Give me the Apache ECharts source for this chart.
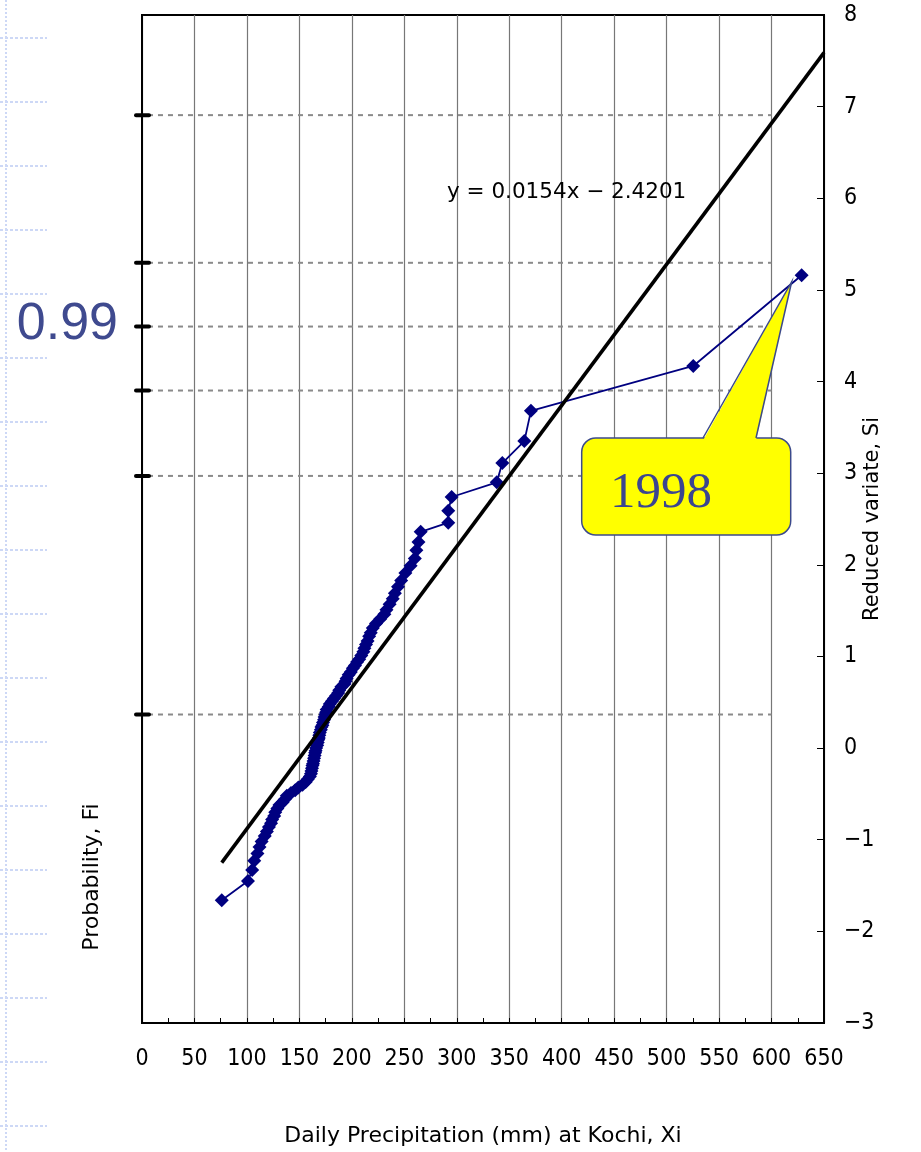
<!DOCTYPE html>
<html>
<head>
<meta charset="utf-8">
<script src="https://cdn.jsdelivr.net/npm/echarts@6/dist/echarts.min.js"></script>
<style>
html,body{margin:0;padding:0;background:#fff;}
#chart{width:921px;height:1152px;}
</style>
</head>
<body>
<div id="chart"></div>
<script>
// ---- data ----
const precipitation = [76,101,105,107,110,112,114,117,119,121,
  123,124,126,127,129,131,134,136,138,142,
  146,149,153,156,158,160,161,161.5,162,162.5,
  163,163.5,164,164.5,165,165.5,166,167,167.5,168,
  168.5,169,169.5,170.5,171,172,172.5,173.5,174,175,
  175.5,176,178,179,181,183,185,187,188,190,
  193,194,195,197,199,201,203,205,207,209,
  211,212,213.5,215,216.5,218,220,223,227,231,
  233,236,239,241,244,247,251,256,260,261.5,
  263.5,265.6,291.9,291.9,295.1,338.1,343.4,364.4,370.7,525.4,
  628.7];
const reducedVariate = [-1.66,-1.45,-1.33,-1.23,-1.15,-1.08,-1.02,-0.96,-0.91,-0.86,
  -0.82,-0.78,-0.74,-0.70,-0.66,-0.62,-0.59,-0.56,-0.52,-0.49,
  -0.46,-0.43,-0.40,-0.37,-0.34,-0.31,-0.28,-0.25,-0.22,-0.19,
  -0.17,-0.14,-0.11,-0.08,-0.05,-0.03,0.00,0.03,0.06,0.09,
  0.11,0.14,0.17,0.20,0.23,0.25,0.28,0.31,0.34,0.37,
  0.39,0.42,0.45,0.48,0.51,0.54,0.57,0.60,0.63,0.67,
  0.70,0.73,0.76,0.80,0.83,0.87,0.90,0.94,0.97,1.01,
  1.05,1.09,1.13,1.17,1.22,1.26,1.31,1.36,1.41,1.46,
  1.51,1.57,1.63,1.69,1.76,1.83,1.91,1.99,2.07,2.16,
  2.25,2.36,2.46,2.59,2.74,2.90,3.11,3.35,3.68,4.17,
  5.16];
const regSlope = 0.0154;
const regIntercept = -2.4201;
const regRangeX = [76, 650];
const probTicks = [0.5, 0.95, 0.98, 0.99, 0.995, 0.999];
const probLabels = ['', '', '', '0.99', '', ''];
const xTicks = {min: 0, max: 650, interval: 50};
const yTicks = {min: -3, max: 8, interval: 1};
const equationText = 'y = 0.0154x \u2212 2.4201';
const calloutText = '1998';

// ---- build ----
const obs = precipitation.map((x, i) => [x, reducedVariate[i]]);
const regLine = regRangeX.map(x => [x, regSlope * x + regIntercept]);
const probData = probTicks.map((p, i) => [0, -Math.log(-Math.log(p)), i]);

const narrow = "'DejaVu Sans Condensed','Liberation Sans Narrow','Liberation Sans',sans-serif";
const sans = "'Liberation Sans',Arial,sans-serif";
const wide = "'DejaVu Sans',sans-serif";

const chart = echarts.init(document.getElementById('chart'), null, {renderer: 'canvas'});

const graphics = [];
// faint slide decoration on the far left
graphics.push({type: 'line', shape: {x1: 6, y1: 0, x2: 6, y2: 1152},
  style: {stroke: '#cdd8f6', lineWidth: 2, lineDash: [2, 2]}, z: 0, silent: true});
for (let k = 0; k < 18; k++) {
  const yy = 38 + 64 * k;
  graphics.push({type: 'line', shape: {x1: 0, y1: yy, x2: 47, y2: yy},
    style: {stroke: '#cdd8f6', lineWidth: 2, lineDash: [3, 2]}, z: 0, silent: true});
}
graphics.push({type: 'text', x: 92, y: 877, rotation: Math.PI / 2,
  style: {text: 'Probability, Fi', font: '22px ' + wide, fill: '#000', align: 'center', verticalAlign: 'middle'}, z: 10});
graphics.push({type: 'text', x: 447, y: 192,
  style: {text: equationText, font: '21.5px ' + wide, fill: '#000', align: 'left', verticalAlign: 'middle'}, z: 10});
// callout box
graphics.push({type: 'rect', z: 100, silent: true,
  shape: {x: 581.7, y: 438, width: 209, height: 97, r: 14},
  style: {fill: '#ffff00', stroke: '#3c4a8c', lineWidth: 1.5}});
graphics.push({type: 'polygon', z: 101, silent: true,
  shape: {points: [[703, 440.5], [791.7, 281.7], [756, 440.5]]},
  style: {fill: '#ffff00'}});
graphics.push({type: 'polyline', z: 102, silent: true,
  shape: {points: [[703, 438], [791.7, 281.7], [756, 438]]},
  style: {stroke: '#3c4a8c', lineWidth: 1.5, fill: null}});
graphics.push({type: 'text', x: 661, y: 494, z: 103,
  style: {text: calloutText, font: '51px "Liberation Serif","Times New Roman",serif', fill: '#3b4590', align: 'center', verticalAlign: 'middle'}});

const option = {
  animation: false,
  backgroundColor: '#ffffff',
  grid: {left: 142, top: 15, width: 682, height: 1009, show: true, borderColor: '#000', borderWidth: 2, backgroundColor: 'transparent'},
  xAxis: {
    type: 'value', min: xTicks.min, max: xTicks.max, interval: xTicks.interval,
    name: 'Daily Precipitation (mm) at Kochi, Xi', nameLocation: 'middle', nameGap: 102, nameMoveOverlap: false,
    nameTextStyle: {fontSize: 22, fontFamily: wide, color: '#000'},
    axisLine: {show: true, onZero: false, lineStyle: {color: '#000', width: 2}},
    axisTick: {show: true, inside: true, length: 5, lineStyle: {color: '#000', width: 1}},
    minorTick: {show: true, splitNumber: 2, length: 5, lineStyle: {color: '#000', width: 1}},
    splitLine: {show: true, lineStyle: {color: '#777', width: 1.2}},
    axisLabel: {margin: 25, fontSize: 23, fontFamily: narrow, color: '#000'}
  },
  yAxis: [{
    type: 'value', position: 'right', min: yTicks.min, max: yTicks.max, interval: yTicks.interval,
    name: 'Reduced variate, Si', nameLocation: 'middle', nameRotate: 90, nameGap: 38, nameMoveOverlap: false,
    nameTextStyle: {fontSize: 21, fontFamily: wide, color: '#000'},
    axisLine: {show: true, onZero: false, lineStyle: {color: '#000', width: 2}},
    axisTick: {show: true, inside: true, length: 7, lineStyle: {color: '#000', width: 1}},
    splitLine: {show: false},
    axisLabel: {margin: 20, fontSize: 23, fontFamily: narrow, color: '#000',
      formatter: v => String(v).replace('-', '\u2212')}
  }, {
    type: 'value', position: 'left', min: yTicks.min, max: yTicks.max, interval: yTicks.interval,
    axisLine: {show: true, onZero: false, lineStyle: {color: '#000', width: 2}},
    axisTick: {show: false, length: 0, lineStyle: {color: 'rgba(0,0,0,0)'}},
    minorTick: {show: false},
    axisLabel: {show: false}, splitLine: {show: false}
  }],
  series: [{
    type: 'custom', xAxisIndex: 0, yAxisIndex: 1, data: probData, clip: false, z: 1, silent: true,
    renderItem: function (params, api) {
      const si = api.value(1);
      const idx = api.value(2);
      const a = api.coord([0, si]);
      const d0 = api.coord([5.7, si]);
      const d1 = api.coord([600, si]);
      const children = [
        {type: 'line', shape: {x1: d0[0], y1: a[1], x2: d1[0], y2: a[1]},
          style: {stroke: '#8a8a8a', lineWidth: 2, lineDash: [5, 5]}},
        {type: 'line', shape: {x1: a[0] - 6, y1: a[1], x2: a[0] + 7, y2: a[1]},
          style: {stroke: '#000', lineWidth: 4, lineCap: 'round'}}
      ];
      const lab = probLabels[idx];
      if (lab) {
        children.push({type: 'text', style: {text: lab, x: a[0] - 24, y: a[1] - 2,
          fill: '#3f4a8f', font: '52px ' + sans, align: 'right', verticalAlign: 'middle'}});
      }
      return {type: 'group', children: children};
    }
  }, {
    type: 'line', xAxisIndex: 0, yAxisIndex: 0, data: obs, z: 3,
    symbol: 'diamond', symbolSize: 14, showSymbol: true,
    itemStyle: {color: '#000080'}, lineStyle: {color: '#000080', width: 1.8},
    silent: true
  }, {
    type: 'line', xAxisIndex: 0, yAxisIndex: 0, data: regLine, z: 4,
    symbol: 'none', lineStyle: {color: '#000', width: 3.6}, silent: true
  }],
  graphic: graphics
};
chart.setOption(option);
</script>
</body>
</html>
